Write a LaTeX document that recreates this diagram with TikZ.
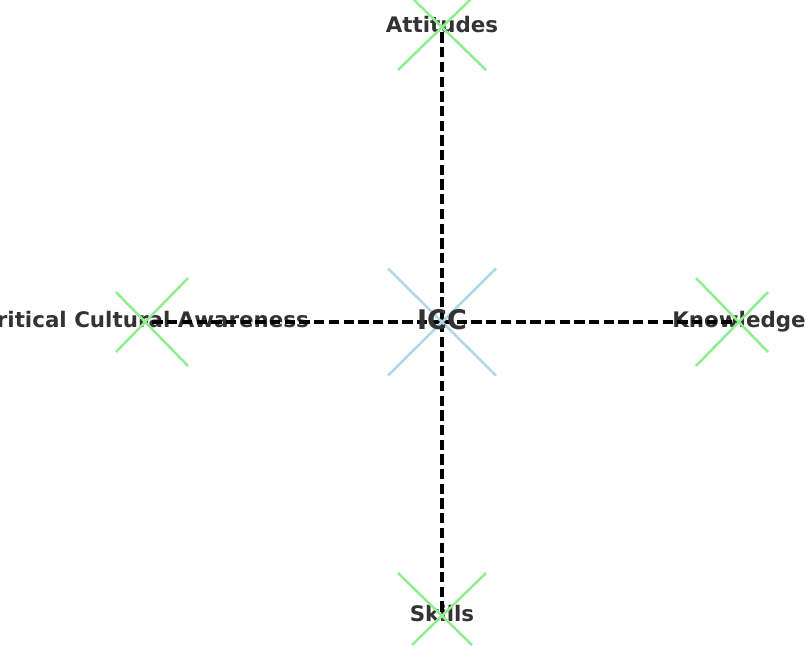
\documentclass[tikz,border=0pt]{standalone}
\usepackage{fontspec}
\setmainfont{DejaVu Sans}
\definecolor{labelgray}{HTML}{333333}
\definecolor{markgreen}{HTML}{90EE90}
\definecolor{markblue}{HTML}{ADD8E6}
\pgfdeclarelayer{front}
\pgfsetlayers{main,front}
\tikzset{
    lbl/.style={inner sep=0pt, text=labelgray, font=\bfseries\fontsize{21.4}{25}\selectfont, text height=16.26pt, text depth=5.14pt},
    hub/.style={inner sep=0pt, text=labelgray, font=\bfseries\fontsize{27}{31}\selectfont, text height=20.52pt, text depth=6.48pt},
    link/.style={draw=black, line width=3.1pt, dash pattern=on 10.3pt off 4.4pt},
    crossg/.style={draw=markgreen, line width=2.5pt},
    crossb/.style={draw=markblue, line width=2.5pt}
}
\begin{document}
\begin{tikzpicture}[x=1pt,y=-1pt]
\useasboundingbox[fill=white] (0,0) rectangle (806,651);
\node[lbl] (att) at (442,27) {Attitudes};
\node[lbl] (know) at (739,322) {Knowledge};
\node[lbl] (skl) at (442,616) {Skills};
\node[lbl] (cca) at (145,322) {Critical Cultural Awareness};
\begin{pgfonlayer}{front}
\node[hub] (icc) at (442,322) {ICC};
\end{pgfonlayer}
\foreach \n in {att,know,skl,cca}
    \draw[link] (icc.center) -- (\n.center);
\draw[crossb] (icc.center) ++(-54,-53.5) -- ++(108,107) (icc.center) ++(54,-53.5) -- ++(-108,107);
\draw[crossg] (att.center) ++(-44,43) -- ++(74,-72) (att.center) ++(44,43) -- ++(-74,-72);
\draw[crossg] (know.center) ++(-43,-44) -- ++(72,74) (know.center) ++(29,-30) -- ++(-72,74);
\draw[crossg] (skl.center) ++(-44,-43) -- ++(74,72) (skl.center) ++(44,-43) -- ++(-74,72);
\draw[crossg] (cca.center) ++(43,-44) -- ++(-72,74) (cca.center) ++(-29,-30) -- ++(72,74);
\end{tikzpicture}
\end{document}
